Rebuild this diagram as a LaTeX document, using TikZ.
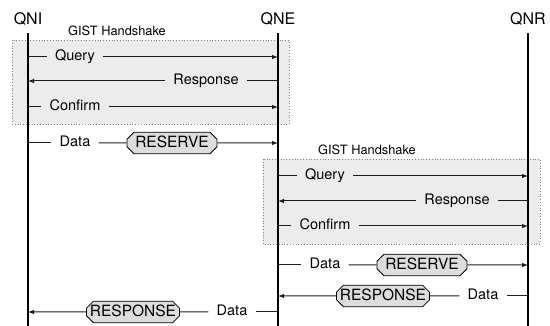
\documentclass[tikz,border=0pt]{standalone}
\usepackage{fontspec}
\setmainfont{TeX Gyre Heros}
\usetikzlibrary{shapes.misc,arrows.meta}
\definecolor{nero}{RGB}{30,30,30}
\definecolor{grigio}{RGB}{130,130,130}
\definecolor{sfondo}{RGB}{236,236,236}
\definecolor{oggetto}{RGB}{221,221,221}
\tikzstyle{sequence}=[
    entity/.style={font={\fontsize{16}{18}\selectfont},inner sep=0pt,text height=12pt,text depth=0pt},
    lifeline/.style={black,line width=1.2pt,shorten <=8pt},
    msg/.style={nero,line width=1pt},
    msg label/.style={font={\fontsize{14.5}{17}\selectfont},inner ysep=0pt,inner xsep=8pt,text height=11pt,text depth=3pt},
    object/.style={chamfered rectangle,chamfered rectangle xsep=3.5pt,chamfered rectangle ysep=3.5pt,
        draw=black,line width=0.8pt,fill=oggetto,font={\fontsize{15.5}{18}\selectfont},
        inner sep=0pt,minimum width=90pt,minimum height=20pt,text height=11.5pt,text depth=3pt},
    handshake/.style={draw=grigio,dotted,line width=0.8pt,fill=sfondo},
    handshake label/.style={font={\fontsize{12.8}{15}\selectfont}},
    >={Latex[length=6pt,width=4.5pt]}
]
% plain message: name, from, to, y, label x, label
\newcommand{\msg}[6]{
    \path (0,#4) coordinate (#1-y);
    \coordinate (#1-s) at (#2 |- #1-y);
    \coordinate (#1-e) at (#3 |- #1-y);
    \node[msg label] (#1) at (#5,#4) {#6};
    \draw[msg] (#1-s) -- (#1);
    \draw[msg,->] (#1) -- (#1-e);
}
% message carrying an object: name, from, to, y, label x, label, object x, object
\newcommand{\msgobj}[8]{
    \path (0,#4) coordinate (#1-y);
    \coordinate (#1-s) at (#2 |- #1-y);
    \coordinate (#1-e) at (#3 |- #1-y);
    \node[msg label] (#1) at (#5,#4) {#6};
    \node[object] (#1-obj) at (#7,#4) {#8};
    \draw[msg] (#1-s) -- (#1);
    \draw[msg] (#1) -- (#1-obj);
    \draw[msg,->] (#1-obj) -- (#1-e);
}

\begin{document}
\begin{tikzpicture}[sequence,x=1pt,y=-1pt]
    \useasboundingbox (0,0) rectangle (550,326);

    % handshakes
    \draw[handshake] (12,40) rectangle (289,124);
    \node[handshake label] (gist1) at (117,31) {GIST Handshake};
    \draw[handshake] (263,159) rectangle (540,244);
    \node[handshake label] (gist2) at (367,150) {GIST Handshake};

    % entities
    \foreach \n/\x in {QNI/28,QNE/278,QNR/528}{
        \node[entity] (\n) at (\x,19) {\n};
        \draw[lifeline] (\n.south) -- (\x,326);
    }

    \msg{q1}{QNI}{QNE}{57}{75}{Query}
    \msg{r1}{QNE}{QNI}{81}{206}{Response}
    \msg{c1}{QNI}{QNE}{107}{75}{Confirm}
    \msgobj{d1}{QNI}{QNE}{143}{75}{Data}{172}{RESERVE}

    \msg{q2}{QNE}{QNR}{176}{325}{Query}
    \msg{r2}{QNR}{QNE}{201}{457}{Response}
    \msg{c2}{QNE}{QNR}{226}{325}{Confirm}
    \msgobj{d2}{QNE}{QNR}{265}{325}{Data}{422}{RESERVE}
    \msgobj{d3}{QNR}{QNE}{296}{483}{Data}{383}{RESPONSE}
    \msgobj{d4}{QNE}{QNI}{312}{232}{Data}{133}{RESPONSE}

\end{tikzpicture}
\end{document}
